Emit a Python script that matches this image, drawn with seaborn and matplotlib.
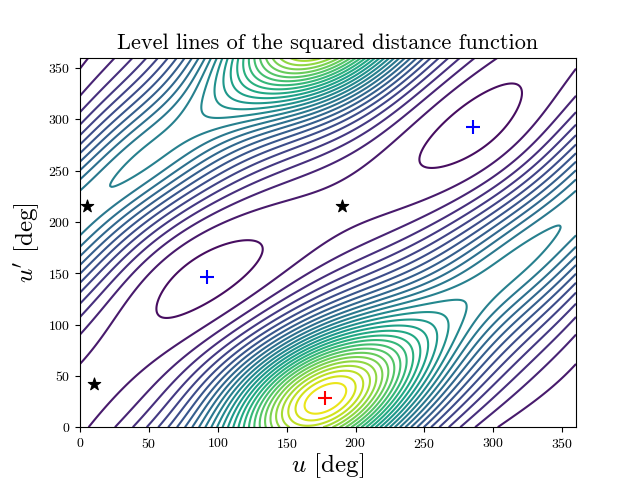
import numpy as np
import matplotlib
matplotlib.use("Agg")
import matplotlib.pyplot as plt
import seaborn as sns

plt.rcParams.update({"font.family": "serif", "font.serif": ["cmr10"], "mathtext.fontset": "cm",
                     "axes.formatter.use_mathtext": True})

# critical points (deg) and level assigned to each
max_u = [178]; max_up = [28]; max_val = [1.0]
min_u = [92, 285]; min_up = [146, 292]; min_val = [-1.0, -1.0]
sad_u = [5, 10, 190]; sad_up = [215, 42, 215]; sad_val = [0.3, -0.8, -0.8]
# extra level readings (not critical points)
ext_u = [110, 280]; ext_up = [300, 130]; ext_val = [0.35, 0.35]

pairs = [(m, n) for m in range(0, 3) for n in range(-2, 3) if (m > 0 or n > 0)]
def basis(uu, vv):
    cols = [np.ones_like(uu)]
    dcols_u = [np.zeros_like(uu)]; dcols_v = [np.zeros_like(uu)]
    for m, n in pairs:
        a = m * uu + n * vv
        cols += [np.cos(a), np.sin(a)]
        dcols_u += [-m * np.sin(a), m * np.cos(a)]
        dcols_v += [-n * np.sin(a), n * np.cos(a)]
    return np.stack(cols, -1), np.stack(dcols_u, -1), np.stack(dcols_v, -1)

ph = np.radians(30)
prior = lambda uu, vv: -np.cos(vv - uu - ph)
pu = np.radians(max_u + min_u + sad_u); pv = np.radians(max_up + min_up + sad_up)
vals = np.array(max_val + min_val + sad_val)
eu = np.radians(ext_u); ev = np.radians(ext_up)
B, Bu, Bv = basis(pu, pv)
Be, _, _ = basis(eu, ev)
A = np.vstack([B, Bu, Bv, Be])
rhs = np.concatenate([vals - prior(pu, pv), np.sin(pv - pu - ph), -np.sin(pv - pu - ph),
                      np.array(ext_val) - prior(eu, ev)])
w = np.array([1.0] + [1 + m*m + n*n for m, n in pairs for _ in range(2)])
coef = (np.linalg.pinv(A / w) @ rhs) / w

u = np.linspace(0, 360, 361)
U, UP = np.meshgrid(u, u)
Bg, _, _ = basis(np.radians(U), np.radians(UP))
F = prior(np.radians(U), np.radians(UP)) + Bg @ coef
D = np.exp(1.0 * F)

fig, ax = plt.subplots(figsize=(6.4, 4.8), dpi=100)
ax.contour(U, UP, D, levels=30, cmap="viridis")
sns.scatterplot(x=sad_u, y=sad_up, marker="*", color="black", s=90, ax=ax, zorder=5, edgecolor="black")
ax.plot(min_u, min_up, "b+", ms=10, mew=1.5)
ax.plot(max_u, max_up, "r+", ms=10, mew=1.5)
ax.set_xlim(0, 360); ax.set_ylim(0, 360)
ax.set_xlabel(r"$u$ [deg]", fontsize=18, labelpad=0)
ax.set_ylabel(r"$u'$ [deg]", fontsize=18)
ax.set_title("Level lines of the squared distance function", fontsize=16)
fig.subplots_adjust(bottom=0.11)
fig.savefig("out.png")
